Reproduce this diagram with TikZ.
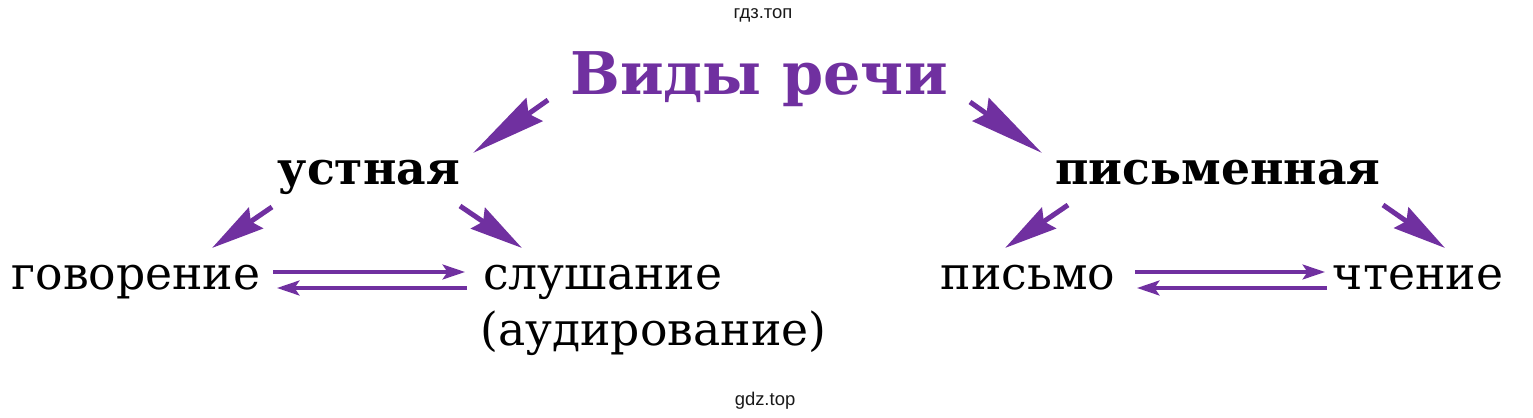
\documentclass[tikz,border=0pt]{standalone}
\usepackage{fontspec}
\setmainfont{DejaVu Serif}
\newfontfamily\markfont{Liberation Sans}
\usepackage{xcolor}
\usetikzlibrary{calc}
\usetikzlibrary{positioning}
\usetikzlibrary{arrows.meta}
\definecolor{speechpurple}{RGB}{112,48,160}

\begin{document}
\begin{tikzpicture}[x=0.02cm, y=-0.02cm, draw=speechpurple]
		\tikzstyle{title}=[text=speechpurple, font=\fontsize{33.5}{38}\selectfont\bfseries, inner sep=0pt, anchor=base]
		\tikzstyle{kind}=[font=\fontsize{26}{30}\selectfont\bfseries, inner sep=0pt, anchor=base]
		\tikzstyle{act}=[font=\fontsize{26}{30}\selectfont, inner sep=0pt, anchor=base]
		\tikzstyle{wmark}=[font=\markfont\fontsize{10.5}{12}\selectfont, text=black!90, inner sep=0pt, anchor=base]
		\tikzstyle{bigarrow}=[line width=0.1cm, -{Stealth[length=1.5cm, width=0.56cm, inset=0.14cm]}]
		\tikzstyle{smallarrow}=[line width=0.1cm, -{Stealth[length=1.06cm, width=0.5cm, inset=0.12cm]}]
		\tikzstyle{thinarrow}=[line width=0.065cm, -{Stealth[length=0.45cm, width=0.3cm, inset=0.1cm]}]
		
		\useasboundingbox (0,0) rectangle (1533,418);
		
		\node[wmark] (wtop) at (763,19) {гдз.топ};
		\node[wmark] (wbot) at (765,405) {gdz.top};
		
		\node[title] (title) at (759,95) {Виды речи};
		\node[kind] (ustn) at (369,185) {устная};
		\node[kind] (pism) at (1218,185) {письменная};
		
		\node[act] (govor) at (136,290) {говорение};
		\node[act, anchor=base west] (slush) at (483,290) {слушание};
		\node[act, anchor=base west] (aud) at ($(slush.base west)+(-3,55)$) {(аудирование)};
		\node[act] (pismo) at (1028,290) {письмо};
		\node[act] (chten) at (1418,290) {чтение};
		
		% from the title down
		\draw[bigarrow] ([shift={(-211,5)}]title.base) -- ([shift={(104,-32)}]ustn.base);
		\draw[bigarrow] ([shift={(211,7)}]title.base) -- ([shift={(-176,-32)}]pism.base);
		
		% oral speech
		\draw[smallarrow] ([shift={(-97,22)}]ustn.base) -- ([shift={(76,-42)}]govor.base);
		\draw[smallarrow] ([shift={(91,21)}]ustn.base) -- ([shift={(39,-42)}]slush.base west);
		\draw[thinarrow] ([shift={(137,-18)}]govor.base) -- ([shift={(-18,-18)}]slush.base west);
		\draw[thinarrow] ([shift={(-16,-2)}]slush.base west) -- ([shift={(141,-2)}]govor.base);
		
		% written speech
		\draw[smallarrow] ([shift={(-150,20)}]pism.base) -- ([shift={(-23,-42)}]pismo.base);
		\draw[smallarrow] ([shift={(165,20)}]pism.base) -- ([shift={(27,-42)}]chten.base);
		\draw[thinarrow] ([shift={(107,-18)}]pismo.base) -- ([shift={(-93,-18)}]chten.base);
		\draw[thinarrow] ([shift={(-91,-2)}]chten.base) -- ([shift={(109,-2)}]pismo.base);
	\end{tikzpicture}
\end{document}
